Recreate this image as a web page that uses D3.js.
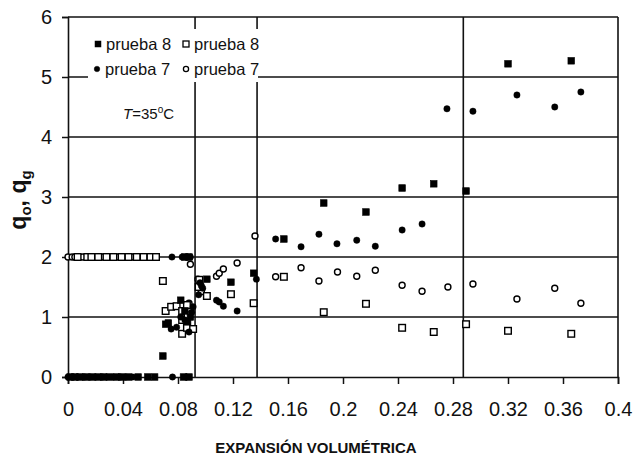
<!DOCTYPE html>
<html>
<head>
<meta charset="utf-8">
<script src="https://cdn.jsdelivr.net/npm/d3@7"></script>
<style>
body { margin:0; background:#fff; }
text { font-family:"Liberation Sans", Arial, sans-serif; }
</style>
</head>
<body>
<svg id="chart"></svg>
<script>
// prueba 8, filled squares (qo)
var qo8 = [[0.0015,0],[0.005,0],[0.0087,0],[0.013,0],[0.0175,0],[0.022,0],[0.026,0],[0.030,0],
    [0.035,0],[0.039,0],[0.044,0],[0.051,0],[0.058,0],[0.063,0],[0.084,0],[0.088,0],
    [0.085,2],[0.088,2],
    [0.069,0.35],[0.071,0.88],[0.082,1.28],[0.073,0.9],[0.087,0.92],[0.085,1.1],[0.089,1.0],
    [0.101,1.63],[0.1185,1.58],[0.135,1.73],[0.157,2.3],[0.186,2.9],[0.2167,2.75],
    [0.243,3.15],[0.266,3.22],[0.2895,3.1],[0.32,5.22],[0.366,5.27]];

// prueba 8, open squares (qg)
var qg8 = [[0.007,2],[0.014,2],[0.017,2],[0.022,2],[0.028,2],[0.033,2],[0.039,2],[0.044,2],
    [0.05,2],[0.055,2],[0.06,2],[0.064,2],
    [0.069,1.6],[0.071,1.1],[0.075,1.17],[0.079,1.18],[0.083,1.1],[0.083,0.95],[0.083,0.72],
    [0.0865,0.82],[0.087,1.03],[0.091,0.8],[0.0865,1.2],
    [0.095,1.5],[0.0955,1.62],[0.101,1.35],[0.1185,1.38],[0.135,1.23],[0.157,1.67],
    [0.186,1.08],[0.2167,1.22],[0.243,0.82],[0.266,0.75],[0.2895,0.88],[0.32,0.77],[0.366,0.72]];

// prueba 7, filled circles (qo)
var qo7 = [[0,0],[0.004,0],[0.007,0],[0.012,0],[0.016,0],[0.02,0],[0.025,0],[0.033,0],
    [0.038,0],[0.042,0],[0.047,0],[0.076,0],[0.086,0],
    [0.0756,2],[0.083,2],[0.086,2],[0.089,2],
    [0.075,0.8],[0.079,0.83],[0.088,0.75],[0.09,1.08],[0.091,1.17],[0.085,0.95],[0.082,1.0],
    [0.095,1.37],[0.096,1.57],[0.097,1.52],[0.098,1.48],[0.108,1.28],[0.11,1.25],[0.113,1.18],
    [0.123,1.1],[0.137,1.63],[0.151,2.3],[0.1695,2.17],[0.1825,2.38],[0.1956,2.22],[0.21,2.28],
    [0.2235,2.18],[0.243,2.45],[0.2575,2.55],[0.2756,4.47],[0.2945,4.43],[0.3265,4.7],
    [0.354,4.5],[0.373,4.75]];

// prueba 7, open circles (qg)
var qg7 = [[0,2],[0.003,2],[0.005,2],[0.0105,2],[0.019,2],[0.025,2],[0.031,2],[0.036,2],
    [0.041,2],[0.047,2],[0.053,2],
    [0.089,1.88],[0.088,1.23],
    [0.0945,1.63],[0.097,1.42],[0.108,1.68],[0.11,1.73],[0.113,1.8],[0.123,1.9],[0.136,2.35],
    [0.151,1.67],[0.1695,1.82],[0.1825,1.6],[0.196,1.75],[0.21,1.68],[0.2235,1.78],
    [0.243,1.53],[0.2575,1.43],[0.2763,1.5],[0.2945,1.55],[0.3265,1.3],[0.354,1.48],[0.373,1.23]];

var xTicks = [0,0.04,0.08,0.12,0.16,0.2,0.24,0.28,0.32,0.36,0.4];
var xTickLabels = ["0","0.04","0.08","0.12","0.16","0.2","0.24","0.28","0.32","0.36","0.4"];
var yTicks = [0,1,2,3,4,5,6];
var refLines = [0.0924,0.1375,0.2875];

var screen = {width:634, height:457};
var margins = {top:17, left:68, right:16, bottom:80};
var graph = {
    width:screen.width-margins.left-margins.right,
    height:screen.height-margins.top-margins.bottom
};

var xScale = d3.scaleLinear().domain([0,0.4]).range([margins.left, margins.left+graph.width]);
var yScale = d3.scaleLinear().domain([0,6]).range([margins.top+graph.height, margins.top]);

var svg = d3.select("#chart")
    .attr("width",screen.width)
    .attr("height",screen.height);

// horizontal grid + frame
svg.append("g").selectAll("line")
    .data(yTicks.slice(1))
    .enter().append("line")
    .attr("x1",xScale(0)).attr("x2",xScale(0.4))
    .attr("y1",function(d){return yScale(d);})
    .attr("y2",function(d){return yScale(d);})
    .attr("stroke","#111").attr("stroke-width",1.6);

svg.append("line")
    .attr("x1",xScale(0.4)).attr("x2",xScale(0.4))
    .attr("y1",yScale(0)).attr("y2",yScale(6))
    .attr("stroke","#111").attr("stroke-width",1.6);

svg.append("g").selectAll("line")
    .data(refLines)
    .enter().append("line")
    .attr("x1",function(d){return xScale(d);})
    .attr("x2",function(d){return xScale(d);})
    .attr("y1",yScale(0)).attr("y2",yScale(6))
    .attr("stroke","#111").attr("stroke-width",1.6);

// legend box hides the grid behind it
svg.append("rect")
    .attr("x",88).attr("y",29).attr("width",170).attr("height",53)
    .attr("fill","#fff");

// axes
var xAxis = d3.axisBottom(xScale)
    .tickValues(xTicks)
    .tickSize(7)
    .tickFormat(function(d,i){return xTickLabels[i];});
var yAxis = d3.axisLeft(yScale)
    .tickValues(yTicks)
    .tickSize(6)
    .tickFormat(d3.format("d"));

var gx = svg.append("g")
    .attr("transform","translate(0,"+yScale(0)+")")
    .call(xAxis);
gx.select(".domain").attr("stroke","#111").attr("stroke-width",1.6);
gx.selectAll(".tick line").attr("stroke","#111").attr("stroke-width",1.5);
gx.selectAll(".tick text")
    .attr("y",25).attr("font-size",20).attr("fill","#111")
    .style("font-family","'Liberation Sans', Arial, sans-serif");

var gy = svg.append("g")
    .attr("transform","translate("+xScale(0)+",0)")
    .call(yAxis);
gy.select(".domain").attr("stroke","#111").attr("stroke-width",1.6);
gy.selectAll(".tick line").attr("stroke","#111").attr("stroke-width",1.5);
gy.selectAll(".tick text")
    .attr("x",-16).attr("font-size",20).attr("fill","#111")
    .style("font-family","'Liberation Sans', Arial, sans-serif");

// markers
var drawSquares = function(data, filled)
{
    svg.append("g").selectAll("rect")
        .data(data)
        .enter().append("rect")
        .attr("x",function(d){return xScale(d[0])-3.3;})
        .attr("y",function(d){return yScale(d[1])-3.3;})
        .attr("width",6.6).attr("height",6.6)
        .attr("fill",filled ? "#000" : "#fff")
        .attr("stroke","#000")
        .attr("stroke-width",filled ? 0.6 : 1.4);
};
var drawCircles = function(data, filled)
{
    svg.append("g").selectAll("circle")
        .data(data)
        .enter().append("circle")
        .attr("cx",function(d){return xScale(d[0]);})
        .attr("cy",function(d){return yScale(d[1]);})
        .attr("r",filled ? 3.2 : 3)
        .attr("fill",filled ? "#000" : "#fff")
        .attr("stroke","#000")
        .attr("stroke-width",filled ? 0.4 : 1.4);
};

drawCircles(qg7,false);
drawSquares(qg8,false);
drawSquares(qo8,true);
drawCircles(qo7,true);

// legend
var legend = [
    {label:"prueba 8", x:98, y:44, shape:"square", filled:true},
    {label:"prueba 8", x:186, y:44, shape:"square", filled:false},
    {label:"prueba 7", x:97, y:69, shape:"circle", filled:true},
    {label:"prueba 7", x:186, y:69, shape:"circle", filled:false}
];
legend.forEach(function(l)
{
    if (l.shape=="square") {
        svg.append("rect")
            .attr("x",l.x-3).attr("y",l.y-3).attr("width",6).attr("height",6)
            .attr("fill",l.filled ? "#000" : "#fff")
            .attr("stroke","#000").attr("stroke-width",l.filled ? 0.5 : 1.3);
    } else {
        svg.append("circle")
            .attr("cx",l.x).attr("cy",l.y).attr("r",l.filled ? 2.8 : 2.6)
            .attr("fill",l.filled ? "#000" : "#fff")
            .attr("stroke","#000").attr("stroke-width",l.filled ? 0.4 : 1.3);
    }
    svg.append("text")
        .attr("x",l.x+8).attr("y",l.y+6)
        .attr("font-size",16.5).attr("fill","#111")
        .text(l.label);
});

var tLabel = svg.append("text")
    .attr("x",123).attr("y",119)
    .attr("font-size",15).attr("fill","#111");
tLabel.append("tspan").attr("font-style","italic").text("T");
tLabel.append("tspan").text("=35");
tLabel.append("tspan").attr("font-size",10).attr("dy",-6).text("o");
tLabel.append("tspan").attr("dy",6).text("C");

// axis titles
svg.append("text")
    .attr("x",316).attr("y",453)
    .attr("text-anchor","middle")
    .attr("font-size",15).attr("font-weight","bold").attr("fill","#111")
    .text("EXPANSIÓN VOLUMÉTRICA");

var yTitle = svg.append("text")
    .attr("transform","translate(26,200) rotate(-90)")
    .attr("text-anchor","middle")
    .attr("font-size",23).attr("font-weight","bold").attr("fill","#111");
yTitle.append("tspan").text("q");
yTitle.append("tspan").attr("font-size",15).attr("dy",5).text("o");
yTitle.append("tspan").attr("dy",-5).text(", q");
yTitle.append("tspan").attr("font-size",15).attr("dy",5).text("g");
</script>
</body>
</html>
